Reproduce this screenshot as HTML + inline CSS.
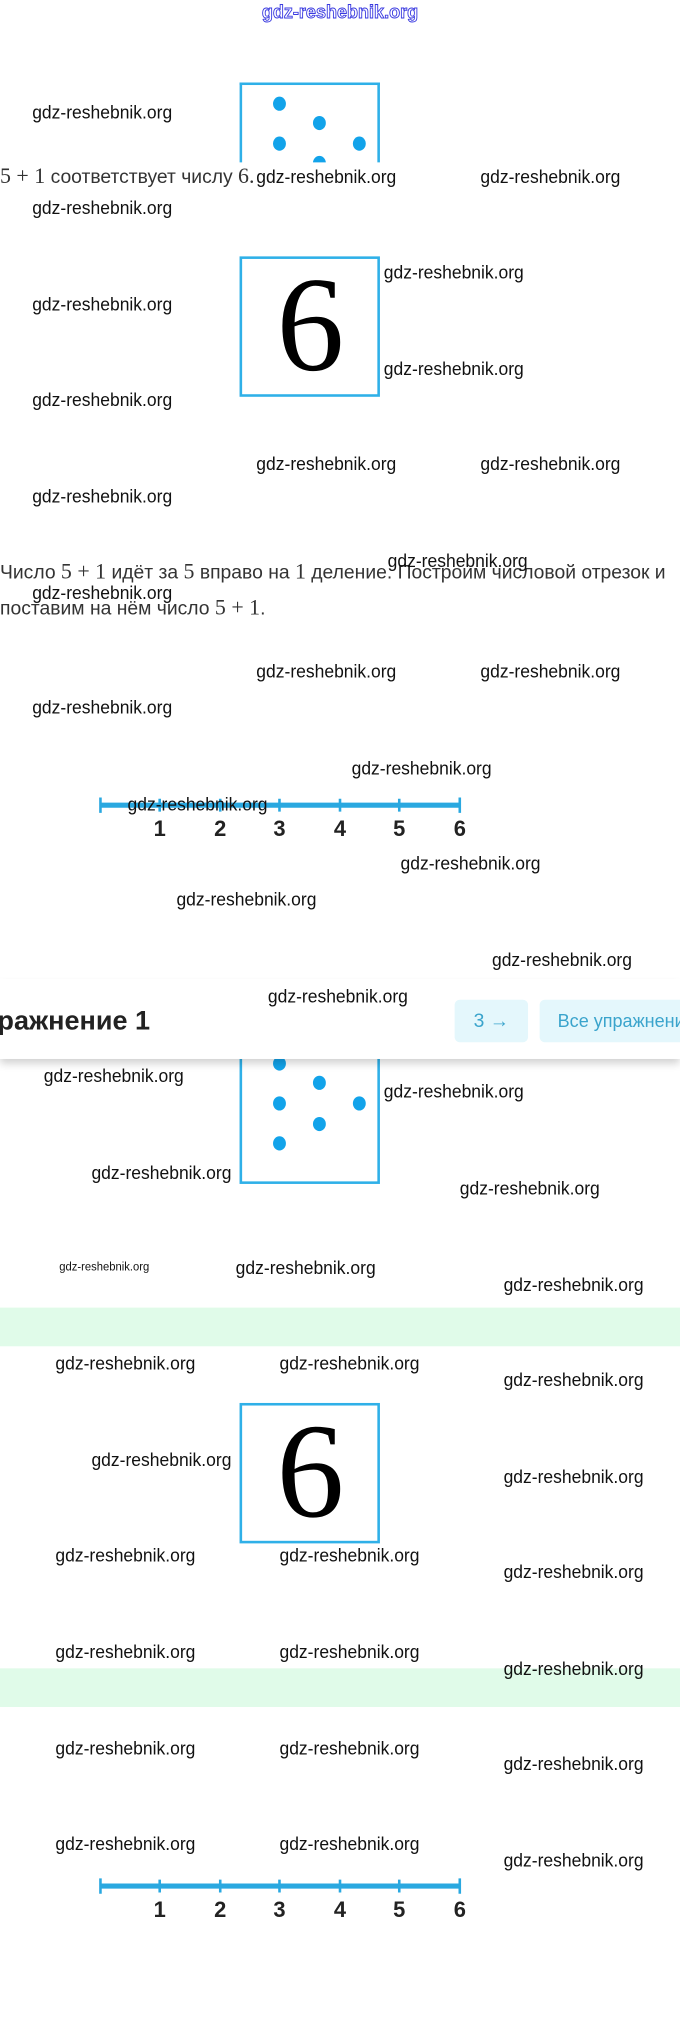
<!DOCTYPE html>
<html><head><meta charset="utf-8">
<style>
html,body{margin:0;padding:0;background:#fff;width:680px;height:2020px;overflow:hidden}
#c{position:absolute;left:0;top:0;width:528px;height:1568px;transform:scale(1.2879,1.2883);transform-origin:0 0;font-family:"Liberation Sans",sans-serif}
.w{position:absolute;font-size:14px;line-height:18px;color:#111;white-space:nowrap;transform:scaleX(0.97);transform-origin:0 50%}
.box{position:absolute;left:186px;width:105px;border:2.5px solid #2fb0e8;background:#fff}
.dot{position:absolute;width:10px;height:11px;border-radius:50%;background:#12a3ea}
.six{position:absolute;left:186px;width:110px;text-align:center;font-family:"Liberation Serif",serif;font-size:105px;color:#000}
.t{position:absolute;left:0;font-size:15px;color:#333;white-space:nowrap;line-height:20px}
.t i{font-family:"Liberation Serif",serif;font-style:normal;font-size:17px}
.band{position:absolute;left:0;width:528px;height:30px;background:#e0fbe9}
.nl{position:absolute;left:0;width:528px}
</style></head><body><div id="c">

<div style="position:absolute;left:0;top:0;width:528px;text-align:center;font-size:14px;line-height:18px;color:#fff;-webkit-text-stroke:0.7px #3a3ae0;font-weight:bold">gdz-reshebnik.org</div>

<div style="position:absolute;left:186px;top:64px;width:114px;height:62px;overflow:hidden">
 <div class="box" style="left:0;top:0;height:120px;border-bottom:none"></div>
 <div class="dot" style="left:26px;top:11px"></div>
 <div class="dot" style="left:57px;top:26px"></div>
 <div class="dot" style="left:26px;top:42px"></div>
 <div class="dot" style="left:88px;top:42px"></div>
 <div class="dot" style="left:57px;top:57px"></div>
</div>
<div class="t" style="top:127px"><i>5 + 1</i> соответствует числу <i>6.</i></div>

<div class="box" style="top:199px;height:105px"></div>
<div class="six" style="top:192px;line-height:120px">6</div>

<div class="t" style="top:434px">Число <i>5 + 1</i> идёт за <i>5</i> вправо на <i>1</i> деление. Построим числовой отрезок и</div>
<div class="t" style="top:462px">поставим на нём число <i>5 + 1</i>.</div>

<svg class="nl" style="top:605px" width="528" height="50">
 <g stroke="#2aa8e0"><line x1="78" y1="20" x2="357" y2="20" stroke-width="4"/>
 <g stroke-width="2"><line x1="78" y1="14" x2="78" y2="26"/><line x1="124" y1="15" x2="124" y2="25"/><line x1="171" y1="15" x2="171" y2="25"/><line x1="217" y1="15" x2="217" y2="25"/><line x1="264" y1="15" x2="264" y2="25"/><line x1="310" y1="15" x2="310" y2="25"/><line x1="357" y1="14" x2="357" y2="26"/></g></g>
 <g font-family="Liberation Sans" font-weight="bold" font-size="17" fill="#222" text-anchor="middle"><text x="124" y="44">1</text><text x="171" y="44">2</text><text x="217" y="44">3</text><text x="264" y="44">4</text><text x="310" y="44">5</text><text x="357" y="44">6</text></g>
</svg>

<div class="box" style="top:800px;height:115px"></div>
<div class="dot" style="left:212px;top:820px"></div>
<div class="dot" style="left:243px;top:835px"></div>
<div class="dot" style="left:212px;top:851px"></div>
<div class="dot" style="left:274px;top:851px"></div>
<div class="dot" style="left:243px;top:867px"></div>
<div class="dot" style="left:212px;top:882px"></div>

<div style="position:absolute;left:0;top:760px;width:528px;height:62px;background:#fff;box-shadow:0 4px 6px rgba(0,0,0,0.18)"></div>
<div style="position:absolute;left:-2px;top:780px;font-size:21px;font-weight:bold;color:#222;line-height:26px">ражнение 1</div>
<div style="position:absolute;left:353px;top:776px;width:57px;height:33px;background:#e4f7fc;border-radius:4px;color:#3aa4cc;font-size:15px;line-height:33px;text-align:center">3 →</div>
<div style="position:absolute;left:419px;top:776px;width:115px;height:33px;background:#e4f7fc;border-radius:4px;color:#3aa4cc;font-size:14px;line-height:33px;padding-left:14px;white-space:nowrap;overflow:hidden">Все упражнения</div>

<div class="band" style="top:1015px"></div>
<div class="band" style="top:1295px"></div>

<div class="box" style="top:1089px;height:105px"></div>
<div class="six" style="top:1082px;line-height:120px">6</div>

<svg class="nl" style="top:1444px" width="528" height="50">
 <g stroke="#2aa8e0"><line x1="78" y1="20" x2="357" y2="20" stroke-width="4"/>
 <g stroke-width="2"><line x1="78" y1="14" x2="78" y2="26"/><line x1="124" y1="15" x2="124" y2="25"/><line x1="171" y1="15" x2="171" y2="25"/><line x1="217" y1="15" x2="217" y2="25"/><line x1="264" y1="15" x2="264" y2="25"/><line x1="310" y1="15" x2="310" y2="25"/><line x1="357" y1="14" x2="357" y2="26"/></g></g>
 <g font-family="Liberation Sans" font-weight="bold" font-size="17" fill="#222" text-anchor="middle"><text x="124" y="44">1</text><text x="171" y="44">2</text><text x="217" y="44">3</text><text x="264" y="44">4</text><text x="310" y="44">5</text><text x="357" y="44">6</text></g>
</svg>

<div class="w" style="left:25px;top:78px">gdz-reshebnik.org</div>
<div class="w" style="left:199px;top:128px">gdz-reshebnik.org</div>
<div class="w" style="left:373px;top:128px">gdz-reshebnik.org</div>
<div class="w" style="left:25px;top:152px">gdz-reshebnik.org</div>
<div class="w" style="left:298px;top:202px">gdz-reshebnik.org</div>
<div class="w" style="left:25px;top:227px">gdz-reshebnik.org</div>
<div class="w" style="left:298px;top:277px">gdz-reshebnik.org</div>
<div class="w" style="left:25px;top:301px">gdz-reshebnik.org</div>
<div class="w" style="left:199px;top:351px">gdz-reshebnik.org</div>
<div class="w" style="left:373px;top:351px">gdz-reshebnik.org</div>
<div class="w" style="left:25px;top:376px">gdz-reshebnik.org</div>
<div class="w" style="left:301px;top:426px">gdz-reshebnik.org</div>
<div class="w" style="left:25px;top:451px">gdz-reshebnik.org</div>
<div class="w" style="left:199px;top:512px">gdz-reshebnik.org</div>
<div class="w" style="left:373px;top:512px">gdz-reshebnik.org</div>
<div class="w" style="left:25px;top:540px">gdz-reshebnik.org</div>
<div class="w" style="left:273px;top:587px">gdz-reshebnik.org</div>
<div class="w" style="left:99px;top:615px">gdz-reshebnik.org</div>
<div class="w" style="left:311px;top:661px">gdz-reshebnik.org</div>
<div class="w" style="left:137px;top:689px">gdz-reshebnik.org</div>
<div class="w" style="left:382px;top:736px">gdz-reshebnik.org</div>
<div class="w" style="left:208px;top:764px">gdz-reshebnik.org</div>
<div class="w" style="left:34px;top:826px">gdz-reshebnik.org</div>
<div class="w" style="left:298px;top:838px">gdz-reshebnik.org</div>
<div class="w" style="left:71px;top:901px">gdz-reshebnik.org</div>
<div class="w" style="left:357px;top:913px">gdz-reshebnik.org</div>
<div class="w" style="left:46px;top:974px;font-size:9px">gdz-reshebnik.org</div>
<div class="w" style="left:183px;top:975px">gdz-reshebnik.org</div>
<div class="w" style="left:391px;top:988px">gdz-reshebnik.org</div>
<div class="w" style="left:43px;top:1049px">gdz-reshebnik.org</div>
<div class="w" style="left:217px;top:1049px">gdz-reshebnik.org</div>
<div class="w" style="left:391px;top:1062px">gdz-reshebnik.org</div>
<div class="w" style="left:71px;top:1124px">gdz-reshebnik.org</div>
<div class="w" style="left:391px;top:1137px">gdz-reshebnik.org</div>
<div class="w" style="left:43px;top:1198px">gdz-reshebnik.org</div>
<div class="w" style="left:217px;top:1198px">gdz-reshebnik.org</div>
<div class="w" style="left:391px;top:1211px">gdz-reshebnik.org</div>
<div class="w" style="left:43px;top:1273px">gdz-reshebnik.org</div>
<div class="w" style="left:217px;top:1273px">gdz-reshebnik.org</div>
<div class="w" style="left:391px;top:1286px">gdz-reshebnik.org</div>
<div class="w" style="left:43px;top:1348px">gdz-reshebnik.org</div>
<div class="w" style="left:217px;top:1348px">gdz-reshebnik.org</div>
<div class="w" style="left:391px;top:1360px">gdz-reshebnik.org</div>
<div class="w" style="left:43px;top:1422px">gdz-reshebnik.org</div>
<div class="w" style="left:217px;top:1422px">gdz-reshebnik.org</div>
<div class="w" style="left:391px;top:1435px">gdz-reshebnik.org</div>

</div></body></html>
